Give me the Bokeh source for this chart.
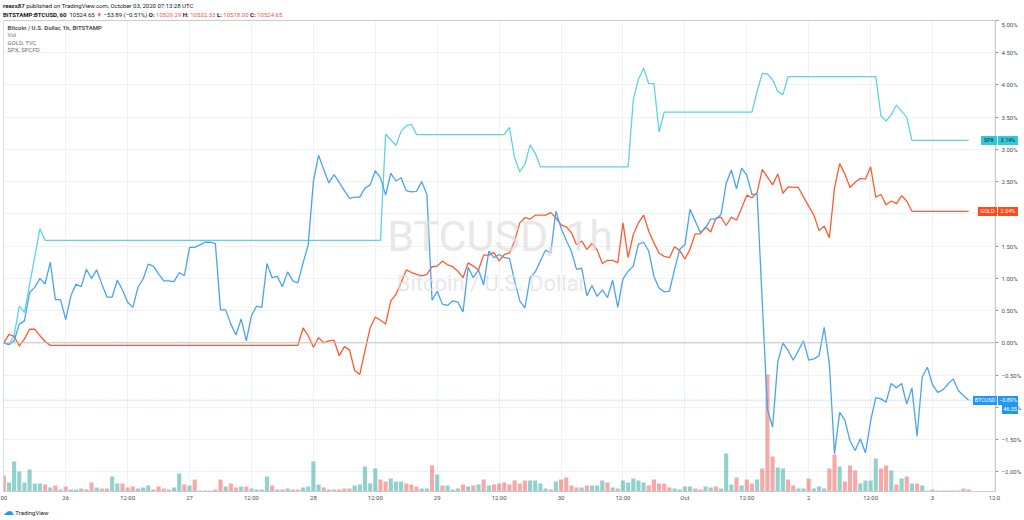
from bokeh.plotting import figure
from bokeh.layouts import column
from bokeh.models import (Range1d, FixedTicker, Label, Span, ColumnDataSource, LinearAxis, Div)
from bokeh.embed import file_html
from bokeh.resources import INLINE

# ---------------- data (hours since 25 Sep 2020 12:00 UTC, % change) ----------------
btc_pct = [0.00,-0.03,0.03,0.29,0.34,0.78,0.86,1.00,0.91,1.25,
           0.67,0.67,0.36,0.73,0.91,0.87,1.14,1.00,1.13,0.91,
           0.71,0.71,0.97,0.82,0.63,0.55,0.86,0.99,1.22,1.19,
           1.07,0.96,0.96,0.95,1.09,1.04,1.48,1.48,1.52,1.56,
           1.56,1.54,0.51,0.51,0.29,0.12,0.37,0.03,0.42,0.57,
           0.55,1.23,1.01,1.03,0.87,1.10,0.96,0.93,1.24,1.52,
           2.50,2.91,2.69,2.48,2.61,2.49,2.36,2.24,2.26,2.26,
           2.40,2.45,2.67,2.56,2.29,2.63,2.51,2.56,2.36,2.34,
           2.35,2.50,2.30,0.66,0.80,0.60,0.58,0.65,0.63,0.48,
           1.17,1.01,1.13,0.90,1.42,1.32,1.37,1.32,1.31,0.96,
           0.65,0.54,1.01,1.10,1.27,1.44,1.39,2.04,1.78,1.59,
           1.42,1.14,1.16,0.73,0.89,0.72,0.82,0.70,0.97,0.55,
           0.99,1.11,1.19,1.53,1.56,1.42,1.03,0.85,0.79,0.80,
           1.14,1.45,1.52,2.07,1.89,1.71,1.78,1.92,1.92,1.99,
           2.47,2.68,2.39,2.71,2.60,2.30,2.31,0.62,-1.03,-1.31,
           -0.30,0.00,-0.12,-0.27,-0.12,0.03,-0.27,-0.25,-0.20,0.24,
           -0.33,-1.72,-1.08,-1.20,-1.52,-1.67,-1.49,-1.71,-1.21,-0.85,
           -0.87,-0.92,-0.63,-0.70,-0.63,-0.95,-0.70,-1.45,-0.53,-0.38,
           -0.65,-0.77,-0.73,-0.64,-0.56,-0.74,-0.82,-0.89]
btc_hours = list(range(len(btc_pct)))

gold_hours = list(range(0, 10)) + [57] + list(range(58, 177)) + [187]
gold_pct = [0.00,0.13,0.10,-0.05,0.06,0.21,0.21,0.11,0.02,-0.04,
            -0.04,
            0.23,0.11,-0.07,0.08,0.00,0.03,0.04,-0.20,-0.06,-0.11,
            -0.43,-0.49,-0.12,0.23,0.40,0.35,0.29,0.65,0.75,0.93,
            1.13,1.09,1.06,1.04,1.06,1.18,1.19,1.27,1.21,1.18,
            1.11,1.01,1.24,1.19,1.13,1.36,1.36,1.40,1.27,1.37,
            1.39,1.58,1.86,1.94,1.92,1.98,1.98,1.98,2.02,1.94,
            1.83,1.80,1.71,1.52,1.58,1.45,1.54,1.44,1.23,1.28,
            1.28,1.24,1.86,1.32,1.68,1.86,1.98,1.73,1.55,1.39,
            1.34,1.32,1.49,1.43,1.30,1.45,1.69,1.69,1.80,1.72,
            1.93,1.95,1.82,1.95,1.90,2.09,2.29,2.25,2.33,2.69,
            2.57,2.45,2.62,2.32,2.42,2.41,2.41,2.26,2.12,1.98,
            1.74,1.81,1.63,2.40,2.78,2.62,2.41,2.49,2.55,2.54,
            2.73,2.26,2.30,2.14,2.20,2.16,2.28,2.20,2.04,
            2.04]

spx_hours = [0,1,2,3,4,7,8, 73,74,75,76,77,78,79,80, 97,98,99,100,101,102,103,104,
             121,122,123,124,125,126,127,128, 145,146,147,148,149,150,151,152,
             169,170,171,172,173,174,175,176, 187]
spx_pct = [0.00,-0.02,0.11,0.57,0.47,1.77,1.59, 1.59,3.24,3.15,3.06,3.28,3.37,3.39,3.23,
           3.23,3.34,2.87,2.65,2.77,3.07,2.94,2.73, 2.73,3.77,4.09,4.26,4.02,4.02,3.27,3.58,
           3.58,3.90,4.18,4.17,4.08,3.90,3.85,4.13, 4.13,3.52,3.44,3.54,3.69,3.59,3.50,3.14,
           3.14]

volume = [16,9,30,20,9,22,8,8,7,4,
          6,2,5,2,2,3,2,9,4,3,
          3,15,8,8,4,5,3,4,6,2,
          5,3,2,4,18,7,6,12,1,1,
          1,2,12,5,8,4,5,5,3,2,
          2,15,6,2,2,3,2,2,4,5,
          30,7,4,2,2,2,3,3,6,7,
          25,8,23,12,10,13,10,10,8,7,
          5,3,3,26,17,6,6,2,3,7,
          5,6,7,12,6,7,8,
          9,7,11,8,11,11,11,8,3,2,
          10,12,14,6,4,4,6,6,6,11,
          9,4,3,11,9,13,11,9,6,12,
          8,8,4,3,2,5,5,3,2,5,
          4,5,3,38,7,14,6,12,8,12,
          23,117,35,24,23,12,6,3,3,13,
          3,5,3,23,37,25,10,26,21,8,
          11,11,33,23,26,21,7,13,15,8,
          8,6,1,2,1,1,1,1,1,3,2]
vol_dir = list("rgggggggrg" "rgrggrgrgr" "rggrrrgggr" "rrrggrgrgg" "rrrgrrgrgg"
               "ggrgrgrrgg" "ggrrgrrrgg" "gggrrgggrr" "rggrgrgggr" "grgrgrr"
               "rrrrrggggr" "grrrrgrggg" "rgrgggggrr" "rrrggggrrg" "grgggrgrrg"
               "rrrggrrggr" "gggrrgrrrg" "gggrrgrgrg" "rggrrrggrrr")

x_tick_hours = [0,12,24,36,48,60,72,84,96,108,120,132,144,156,168,180,192]
x_tick_labels = ["00","26","12:00","27","12:00","28","12:00","29","12:00","30",
                 "12:00","Oct","12:00","2","12:00","3","12:0"]
y_ticks = [-2.0,-1.5,-1.0,-0.5,0.0,0.5,1.0,1.5,2.0,2.5,3.0,3.5,4.0,4.5,5.0]
y_tick_labels = ["\u22122.00%","\u22121.50%","\u22121.00%","\u22120.50%","0.00%","0.50%","1.00%",
                 "1.50%","2.00%","2.50%","3.00%","3.50%","4.00%","4.50%","5.00%"]

# last-value tags on the price scale
tag_names = ["SPX", "GOLD", "BTCUSD"]
tag_values = ["3.14%", "2.04%", "\u22120.89%"]
countdown = "46:35"

# ---------------- layout constants (page px) ----------------
FIG_TOP = 20                      # header div height
FL, FT, FR, FB = 3, 20, 997, 491  # frame edges in page px
FIG_W, FIG_H = 1024, 483
FONT = "Roboto"
BTC_C, GOLD_C, SPX_C = "#4AA3F2", "#FF5B2E", "#5ED3E4"
UP_C, DN_C = "#26a69a", "#ef5350"
TXT = "#4a4d57"
BORDER = "#c9cbd0"
Y0, Y1 = -2.307, 5.0

p = figure(width=FIG_W, height=FIG_H, output_backend="svg", toolbar_location=None, title=None,
           x_range=Range1d(-0.06, 192.2), y_range=Range1d(Y0, Y1),
           y_axis_location="right",
           min_border_left=FL, min_border_right=FIG_W - FR, min_border_top=0,
           min_border_bottom=FIG_TOP + FIG_H - FB)
p.margin = (0, 0, 0, 0)
p.background_fill_color = "white"
p.border_fill_color = "white"
p.outline_line_color = BORDER
p.extra_y_ranges = {"vol": Range1d(0, 471)}

# axes
p.xaxis.ticker = FixedTicker(ticks=x_tick_hours)
p.xaxis.major_label_overrides = dict(zip(x_tick_hours, x_tick_labels))
p.yaxis.ticker = FixedTicker(ticks=y_ticks)
p.yaxis.major_label_overrides = dict(zip(y_ticks, y_tick_labels))
for ax in (p.xaxis[0], p.yaxis[0]):
    ax.major_label_text_font = FONT
    ax.major_label_text_font_size = "6px"
    ax.major_label_text_color = TXT
    ax.minor_tick_line_color = None
    ax.axis_line_color = BORDER
    ax.major_tick_line_color = "#9598a1"
    ax.major_tick_in = 0
p.xaxis.major_tick_out = 0
p.xaxis.major_label_standoff = 2
p.yaxis.major_tick_out = 3
p.yaxis.major_label_standoff = 3
p.xgrid.grid_line_color = "#eef1f7"
p.ygrid.grid_line_color = "#eef1f7"

# outer box lines (empty axes stacked outside the scales)
for loc in ("below", "right"):
    p.add_layout(LinearAxis(ticker=FixedTicker(ticks=[]), axis_line_color=BORDER,
                            major_tick_line_color=None, minor_tick_line_color=None,
                            major_label_text_font_size="0px", major_label_standoff=0), loc)

# watermark
p.add_layout(Label(x=96.2, y=1.66, text="BTCUSD, 1h", text_font=FONT, text_font_size="43px",
                   text_color="#dedede", text_alpha=0.7, text_align="center", text_baseline="middle"))
p.add_layout(Label(x=94.5, y=0.92, text="Bitcoin / U.S. Dollar", text_font=FONT, text_font_size="22px",
                   text_color="#dedede", text_alpha=0.7, text_align="center", text_baseline="middle"))

# volume
vsrc = ColumnDataSource(dict(h=list(range(len(volume))), v=volume,
                             c=[UP_C if d == "g" else DN_C for d in vol_dir]))
p.vbar(x="h", top="v", bottom=0, width=0.8, source=vsrc, fill_color="c", line_color=None,
       fill_alpha=0.5, y_range_name="vol")

p.add_layout(Span(location=0, dimension="width", line_color="#c4c4c4", line_width=1))
p.add_layout(Span(location=btc_pct[-1], dimension="width", line_color=BTC_C,
                  line_dash="1 2", line_alpha=0.7, line_width=1))

p.line(spx_hours, spx_pct, line_color=SPX_C, line_width=1.3)
p.line(gold_hours, gold_pct, line_color=GOLD_C, line_width=1.3)
p.line(btc_hours, btc_pct, line_color=BTC_C, line_width=1.3)

# ---------------- text positioned in page px (relative to frame) ----------------
def lab(px, py, text, size="6px", color=TXT, bold=False, align="left"):
    p.add_layout(Label(x=px - FL, y=FB - py, x_units="screen", y_units="screen", text=text,
                       text_font=FONT, text_font_size=size, text_color=color,
                       text_font_style="bold" if bold else "normal",
                       text_align=align, text_baseline="middle"))

lab(7, 26.7, "Bitcoin / U.S. Dollar, 1h, BITSTAMP", bold=True, color="#50535e")
lab(7, 33.7, "Vol", color="#6a6d78")
lab(7, 41.5, "GOLD, TVC", color="#6a6d78")
lab(7, 49, "SPX, SPCFD", color="#6a6d78")

# ---------------- header and footer ----------------
RED = "#ef5350"
hdr = ('<div style="font-family:Roboto;font-size:6px;line-height:9px;color:#131722;'
       'padding:1px 0 0 3px;white-space:nowrap;">'
       '<b>reezs87</b> published on TradingView.com, October 03, 2020 07:13:28 UTC<br>'
       '<b>BITSTAMP:BTCUSD, 60</b>&nbsp; 10524.65 <span style="color:%s">&#9660;</span> '
       '&minus;53.89 (&minus;0.51%%) '
       '<b>O:</b> <span style="color:%s">10529.29</span> '
       '<b>H:</b> <span style="color:%s">10532.33</span> '
       '<b>L:</b> <span style="color:%s">10518.00</span> '
       '<b>C:</b> <span style="color:%s">10524.65</span></div>') % (RED, RED, RED, RED, RED)
header = Div(text=hdr, width=FIG_W, height=FIG_TOP, margin=(0, 0, 0, 0))

# price-scale tags (they straddle the frame edge, so they live in an overlay div)
FOOT_TOP = FIG_TOP + FIG_H
PX_PER_PCT = (FB - FT) / (Y1 - Y0)
def page_y(v):
    return FT + (Y1 - v) * PX_PER_PCT

tagcss = ("position:absolute;box-sizing:border-box;font-family:Roboto;font-size:5.5px;"
          "line-height:9px;height:9px;white-space:nowrap;overflow:visible;text-align:center;")
tag_specs = [(tag_names[0], tag_values[0], spx_pct[-1], "#33C9DC", "#10282c", 16),
             (tag_names[1], tag_values[1], gold_pct[-1], "#FF4A1C", "white", 19),
             (tag_names[2], tag_values[2], btc_pct[-1], "#2196F3", "white", 24)]
spans = []
for name, val_txt, v, bg, fg, w in tag_specs:
    top = round(page_y(v) - 4.5 - FOOT_TOP)
    spans.append('<span style="%sleft:%dpx;top:%dpx;width:%dpx;background:%s;color:%s;">%s</span>'
                 % (tagcss, FR - w, top, w, bg, fg, name))
    spans.append('<span style="%sleft:%dpx;top:%dpx;width:20px;background:%s;color:%s;">%s</span>'
                 % (tagcss, FR + 1, top, bg, fg, val_txt))
top_cd = round(page_y(btc_pct[-1]) - 4.5 - FOOT_TOP) + 9
spans.append('<span style="%sleft:%dpx;top:%dpx;width:16px;background:#2196F3;color:white;">%s</span>'
             % (tagcss, FR + 5, top_cd, countdown))

ftr = ('<div style="position:relative;width:%dpx;height:0;overflow:visible;">' % FIG_W
       + "".join(spans) + '</div>'
       '<div style="font-family:Roboto;font-size:6px;line-height:12px;color:#131722;'
       'padding:2px 0 0 3px;white-space:nowrap;">'
       '<span style="color:#2196F3;font-size:11px;">&#9729;</span> TradingView</div>')
footer = Div(text=ftr, width=FIG_W, height=520 - FOOT_TOP, margin=(0, 0, 0, 0),
             styles={"overflow": "visible", "z-index": "10"})

layout = column(header, p, footer, spacing=0, margin=(0, 0, 0, 0))
open("out.html", "w").write(file_html(layout, INLINE))
